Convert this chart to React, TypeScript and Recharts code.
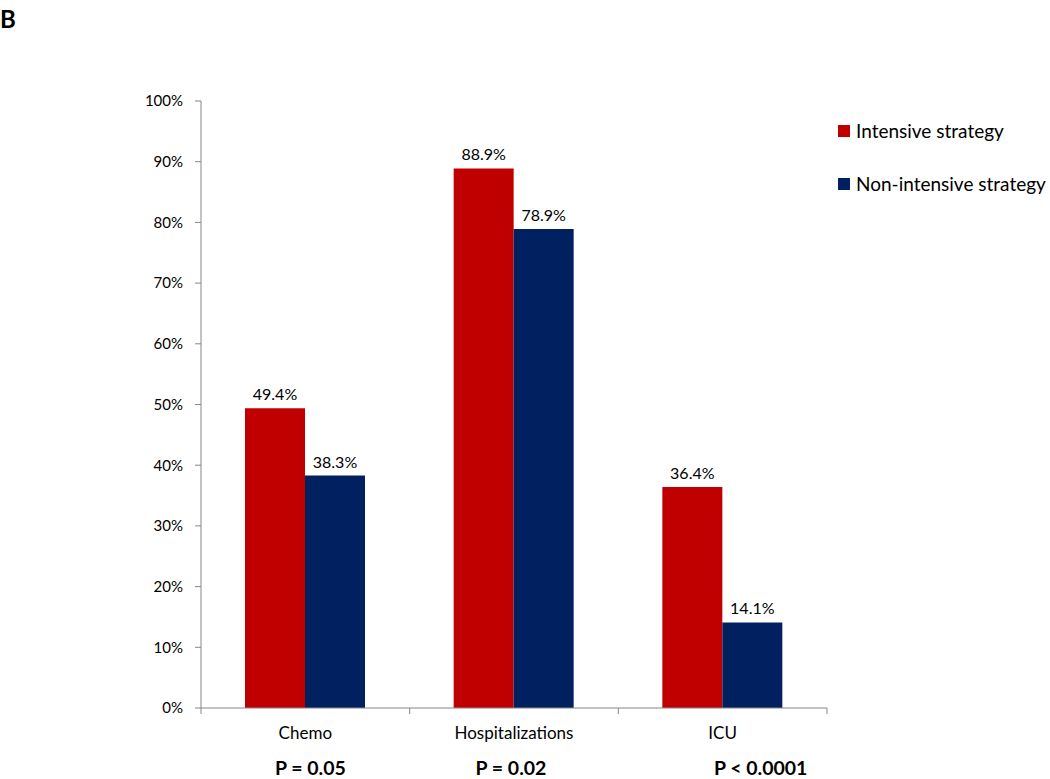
import React from "react";
import { BarChart, Bar, XAxis, YAxis, LabelList } from "recharts";

const categories = ["Chemo", "Hospitalizations", "ICU"];
const intensive = [49.4, 88.9, 36.4];
const nonIntensive = [38.3, 78.9, 14.1];
const pValues = ["P = 0.05", "P = 0.02", "P < 0.0001"];
const yTicks = [0, 10, 20, 30, 40, 50, 60, 70, 80, 90, 100];
const seriesNames = ["Intensive strategy", "Non-intensive strategy"];

const data = categories.map((c, i) => ({
  cat: c,
  intensive: intensive[i],
  nonIntensive: nonIntensive[i],
}));

const FONT = "Lato, 'Open Sans', sans-serif";
const AXIS = "#868686";
const RED = "#C00000";
const NAVY = "#002060";
const seriesColors = [RED, NAVY];
const pShift = [5, -3, 38];

const CatTick = (props: any) => {
  const { x, y, payload, index, visibleTicksCount } = props;
  const half = payload.offset || 0;
  const isLast = index === (visibleTicksCount ?? categories.length) - 1;
  return (
    <g>
      <line x1={x - half} x2={x - half} y1={y - 8} y2={y - 2} stroke={AXIS} />
      {isLast && <line x1={x + half} x2={x + half} y1={y - 8} y2={y - 2} stroke={AXIS} />}
      <text x={x} y={y + 23} textAnchor="middle" fontSize={17} fill="#000" fontFamily={FONT}>
        {payload.value}
      </text>
      <text x={x + pShift[index]} y={y + 59} textAnchor="middle" fontSize={19.5} fontWeight="bold" fill="#000" fontFamily={FONT}>
        {pValues[index]}
      </text>
    </g>
  );
};

export default function App() {
  return (
    <div style={{ position: "absolute", left: 0, top: 0, width: 1050, height: 779, background: "#fff" }}>
      <div style={{ position: "absolute", left: 0, top: 4, fontFamily: FONT, fontWeight: "bold", fontSize: 24 }}>B</div>
      <div style={{ position: "absolute", left: 838, top: 104, fontFamily: FONT }}>
        {seriesNames.map((n, i) => (
          <div key={n} style={{ display: "flex", alignItems: "center", height: 53, fontSize: 19, color: "#000", whiteSpace: "nowrap" }}>
            <span style={{ display: "inline-block", width: 12, height: 12, background: seriesColors[i], marginRight: 6 }} />
            {n}
          </div>
        ))}
      </div>
      <BarChart
        width={1050}
        height={779}
        data={data}
        margin={{ top: 101, right: 223, left: 141, bottom: 41 }}
        barCategoryGap={44}
        barGap={0}
        style={{ position: "absolute", left: 0, top: 0 }}
      >
        <XAxis
          dataKey="cat"
          axisLine={{ stroke: AXIS }}
          tickLine={false}
          tick={<CatTick />}
          height={30}
          interval={0}
        />
        <YAxis
          domain={[0, 100]}
          ticks={yTicks}
          tickFormatter={(v: number) => `${v}%`}
          axisLine={{ stroke: AXIS }}
          tickLine={{ stroke: AXIS }}
          tickSize={6}
          tickMargin={12}
          tick={{ fontSize: 15, fill: "#000", fontFamily: FONT }}
          width={60}
        />
        <Bar dataKey="intensive" name={seriesNames[0]} fill={RED} isAnimationActive={false}>
          <LabelList dataKey="intensive" position="top" offset={8} formatter={(v: number) => `${v}%`} style={{ fontSize: 16, fill: "#000", fontFamily: FONT }} />
        </Bar>
        <Bar dataKey="nonIntensive" name={seriesNames[1]} fill={NAVY} isAnimationActive={false}>
          <LabelList dataKey="nonIntensive" position="top" offset={8} formatter={(v: number) => `${v}%`} style={{ fontSize: 16, fill: "#000", fontFamily: FONT }} />
        </Bar>
      </BarChart>
    </div>
  );
}
